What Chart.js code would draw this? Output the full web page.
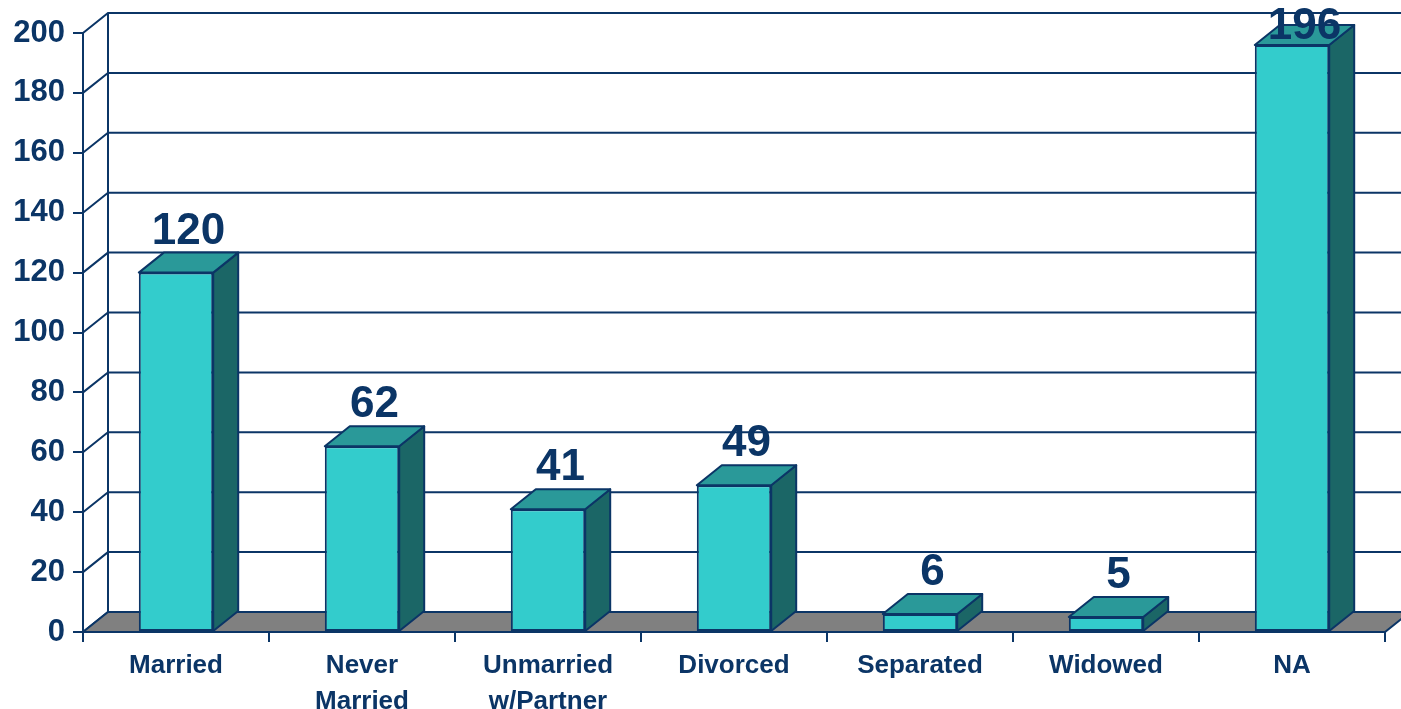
<!DOCTYPE html>
<html>
<head>
<meta charset="utf-8">
<script src="https://cdn.jsdelivr.net/npm/chart.js@4.4.1/dist/chart.umd.min.js"></script>
<style>
  html, body { margin: 0; padding: 0; background: #fff; }
  canvas { display: block; }
</style>
</head>
<body>
<canvas id="maritalChart" width="1401" height="709"></canvas>
<script>
// data
const categories = ['Married', ['Never', 'Married'], ['Unmarried', 'w/Partner'], 'Divorced', 'Separated', 'Widowed', 'NA'];
const counts = [120, 62, 41, 49, 6, 5, 196];
const yTicks = [0, 20, 40, 60, 80, 100, 120, 140, 160, 180, 200];

const navy = '#0b3566';
const depthX = 25;   // 3d offset of the back wall
const depthY = -20;

// draws the back wall, left wall, floor and the top/side faces of the bars
const fake3d = {
    id: 'fake3d',
    beforeDatasetsDraw(chart) {
        const ctx = chart.ctx;
        const area = chart.chartArea;
        const y = chart.scales.y;
        ctx.save();
        ctx.strokeStyle = navy;
        ctx.lineWidth = 2;

        // left wall + back wall grid
        yTicks.forEach(function (v) {
            const py = y.getPixelForValue(v);
            ctx.beginPath();
            ctx.moveTo(area.left, py);
            ctx.lineTo(area.left + depthX, py + depthY);
            ctx.lineTo(chart.width, py + depthY);
            ctx.stroke();
        });
        ctx.beginPath();
        ctx.moveTo(area.left + depthX, y.getPixelForValue(200) + depthY);
        ctx.lineTo(area.left + depthX, y.getPixelForValue(0) + depthY);
        ctx.stroke();

        // floor
        const b = y.getPixelForValue(0);
        ctx.fillStyle = '#808080';
        ctx.beginPath();
        ctx.moveTo(area.left, b);
        ctx.lineTo(area.left + depthX, b + depthY);
        ctx.lineTo(area.right + depthX, b + depthY);
        ctx.lineTo(area.right, b);
        ctx.closePath();
        ctx.fill();
        ctx.stroke();
        ctx.restore();
    },
    afterDatasetsDraw(chart) {
        const ctx = chart.ctx;
        const meta = chart.getDatasetMeta(0);
        ctx.save();
        ctx.strokeStyle = navy;
        ctx.lineWidth = 2;
        ctx.lineJoin = 'round';
        meta.data.forEach(function (bar, i) {
            const left = bar.x - bar.width / 2;
            const right = bar.x + bar.width / 2;
            const top = bar.y;
            const base = bar.base;

            // side face
            ctx.fillStyle = '#1b6666';
            ctx.beginPath();
            ctx.moveTo(right, top);
            ctx.lineTo(right + depthX, top + depthY);
            ctx.lineTo(right + depthX, base + depthY);
            ctx.lineTo(right, base);
            ctx.closePath();
            ctx.fill();
            ctx.stroke();

            // top face
            ctx.fillStyle = '#2a9999';
            ctx.beginPath();
            ctx.moveTo(left, top);
            ctx.lineTo(left + depthX, top + depthY);
            ctx.lineTo(right + depthX, top + depthY);
            ctx.lineTo(right, top);
            ctx.closePath();
            ctx.fill();
            ctx.stroke();

            // value label
            ctx.fillStyle = navy;
            ctx.font = 'bold 44px "Liberation Sans", Arial, sans-serif';
            ctx.textAlign = 'center';
            ctx.textBaseline = 'middle';
            const ly = Math.max(top - 41, 27);
            ctx.fillText(counts[i], bar.x + depthX / 2, ly);
        });
        ctx.restore();
    }
};

new Chart(document.getElementById('maritalChart'), {
    type: 'bar',
    data: {
        labels: categories,
        datasets: [{
            data: counts,
            backgroundColor: '#33cccc',
            borderColor: navy,
            borderWidth: 2,
            borderSkipped: false,
            categoryPercentage: 1.0,
            barPercentage: 0.4
        }]
    },
    options: {
        responsive: false,
        animation: false,
        layout: { padding: { top: 33, right: 16, left: 0, bottom: 0 } },
        plugins: {
            legend: { display: false },
            tooltip: { enabled: false }
        },
        scales: {
            y: {
                min: 0,
                max: 200,
                ticks: {
                    stepSize: 20,
                    color: navy,
                    padding: 8,
                    font: { family: '"Liberation Sans", Arial, sans-serif', size: 31, weight: 'bold' }
                },
                grid: { drawOnChartArea: false, tickLength: 10, color: navy, lineWidth: 2 },
                border: { display: true, color: navy, width: 2 },
                afterFit(scale) { scale.width = 83; }
            },
            x: {
                ticks: {
                    color: navy,
                    padding: 6,
                    maxRotation: 0,
                    autoSkip: false,
                    font: { family: '"Liberation Sans", Arial, sans-serif', size: 26, weight: 'bold', lineHeight: 1.38 }
                },
                grid: { drawOnChartArea: false, offset: true, tickLength: 10, color: navy, lineWidth: 2 },
                border: { display: true, color: navy, width: 2 },
                afterFit(scale) { scale.height = 77; }
            }
        }
    },
    plugins: [fake3d]
});
</script>
</body>
</html>
